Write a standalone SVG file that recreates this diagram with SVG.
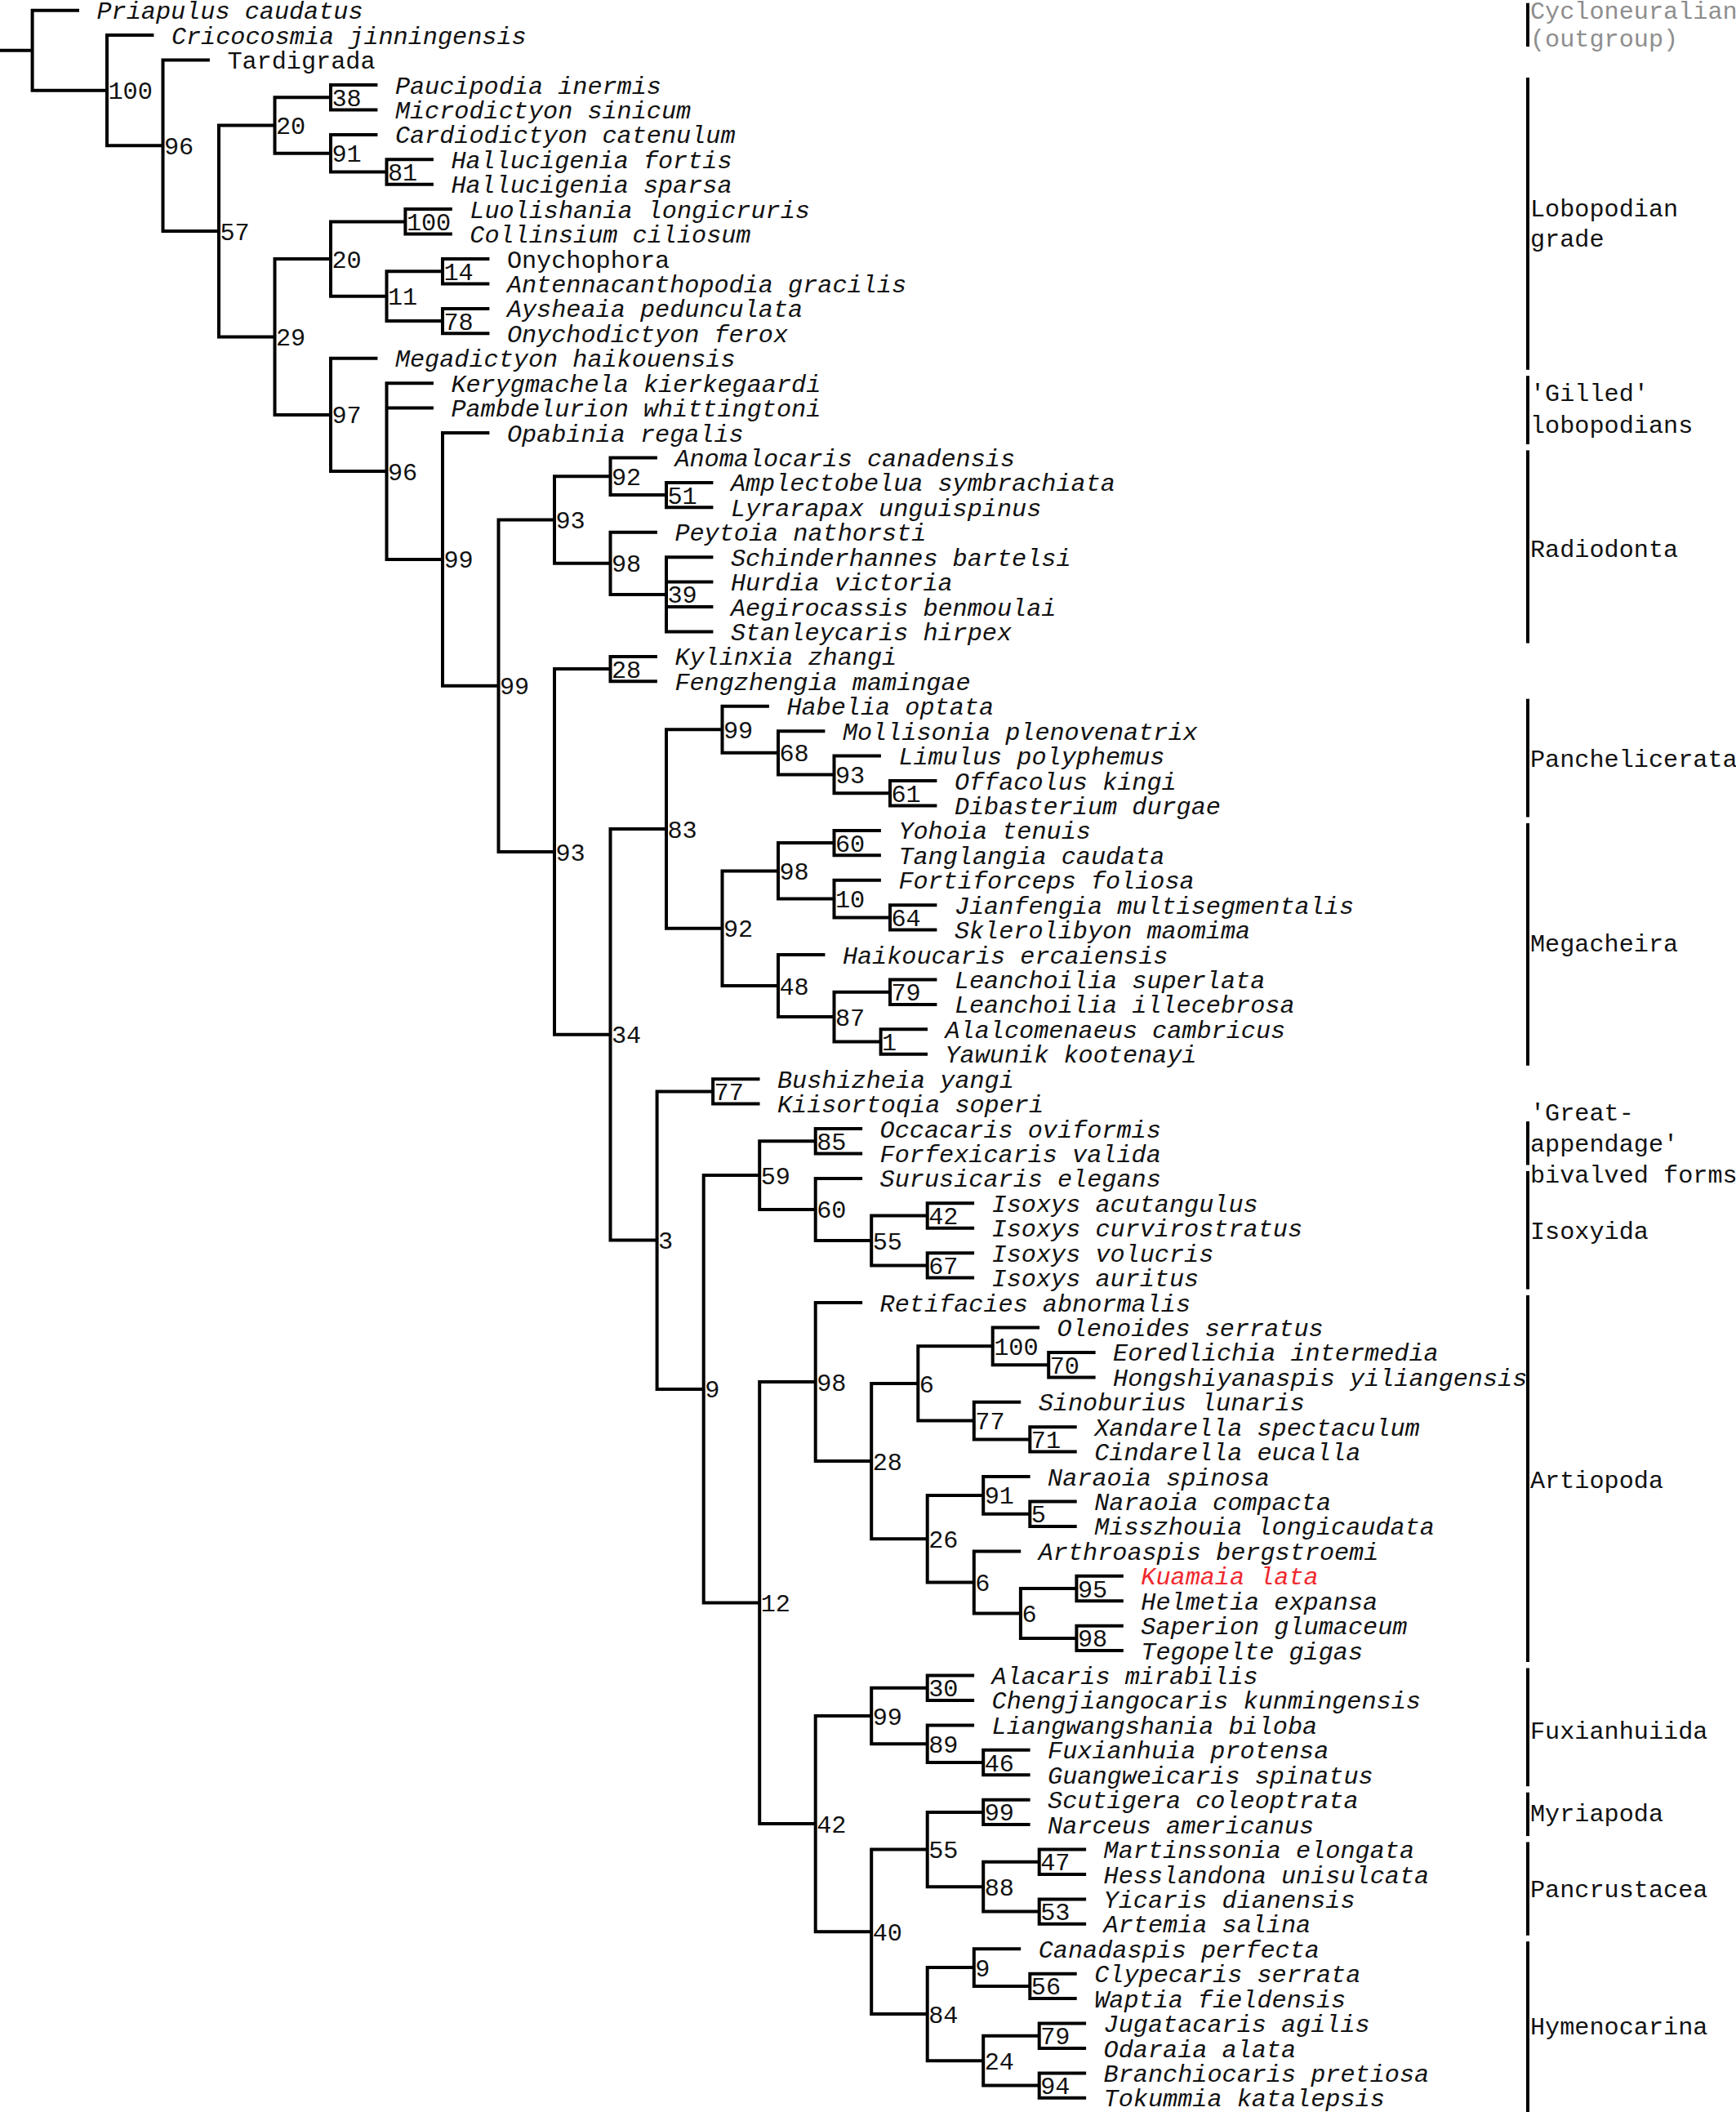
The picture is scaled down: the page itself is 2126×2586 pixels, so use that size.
<svg xmlns="http://www.w3.org/2000/svg" width="2126" height="2586" viewBox="0 0 2126 2586">
<style>
text{font-family:"Liberation Mono","Courier New",monospace;font-size:30.2px;fill:#111}
.i{font-style:italic}
.g{fill:#8e8e8e}
.r{fill:#f0282d}
.e{fill:none;stroke:#000;stroke-width:4;stroke-linejoin:miter}
.b{fill:none;stroke:#000;stroke-width:4}
</style>
<rect width="2126" height="2586" fill="#fff"/>
<g id="connectors" class="e">
<path d="M0 61.7H39.6M97 12.7H39.6V110.7H131"/>
<path d="M188.4 43.1H131V178.3H199.5"/>
<path d="M256.9 73.6H199.5V283H268"/>
<path d="M336.5 153.5H268V412.4H336.5"/>
<path d="M405 119.2H336.5V187.7H405"/>
<path d="M462.4 104H405V134.4H462.4"/>
<path d="M462.4 164.9H405V210.5H473.5"/>
<path d="M530.9 195.3H473.5V225.7H530.9"/>
<path d="M405 317H336.5V507.9H405"/>
<path d="M496.4 271.4H405V362.7H473.5"/>
<path d="M553.8 256.1H496.4V286.6H553.8"/>
<path d="M542 332.2H473.5V393.1H542"/>
<path d="M599.4 317H542V347.4H599.4"/>
<path d="M599.4 377.9H542V408.3H599.4"/>
<path d="M462.4 438.7H405V577H473.5"/>
<path d="M530.9 469.2H473.5V684.9H542M473.5 499.6H530.9"/>
<path d="M599.4 530H542V839.7H610.5"/>
<path d="M679 636.5H610.5V1043H679"/>
<path d="M747.5 583.3H679V689.8H747.5"/>
<path d="M804.9 560.4H747.5V606.1H816"/>
<path d="M873.4 590.9H816V621.3H873.4"/>
<path d="M804.9 651.7H747.5V727.9H816"/>
<path d="M873.4 682.2H816V773.5H873.4M816 712.6H873.4M816 743H873.4"/>
<path d="M747.5 819.1H679V1266.8H747.5"/>
<path d="M804.9 803.9H747.5V834.3H804.9"/>
<path d="M816 1015H747.5V1518.6H804.6"/>
<path d="M884.5 893.3H816V1136.7H884.5"/>
<path d="M941.9 864.7H884.5V921.8H953"/>
<path d="M1010.4 895.2H953V948.4H1021.5"/>
<path d="M1078.9 925.6H1021.5V971.3H1090"/>
<path d="M1147.4 956H1090V986.5H1147.4"/>
<path d="M953 1066.4H884.5V1207.1H953"/>
<path d="M1021.5 1032.1H953V1100.6H1021.5"/>
<path d="M1078.9 1016.9H1021.5V1047.3H1078.9"/>
<path d="M1078.9 1077.8H1021.5V1123.4H1090"/>
<path d="M1147.4 1108.2H1090V1138.6H1147.4"/>
<path d="M1010.4 1169H953V1245.1H1021.5"/>
<path d="M1090 1214.7H1021.5V1275.6H1078.6"/>
<path d="M1147.4 1199.5H1090V1229.9H1147.4"/>
<path d="M1136 1260.3H1078.6V1290.8H1136"/>
<path d="M873.1 1336.4H804.6V1700.9H861.7"/>
<path d="M930.5 1321.2H873.1V1351.6H930.5"/>
<path d="M930.2 1439.1H861.7V1962.6H930.2"/>
<path d="M998.7 1397.3H930.2V1480.9H998.7"/>
<path d="M1056.1 1382.1H998.7V1412.5H1056.1"/>
<path d="M1056.1 1442.9H998.7V1519H1067.2"/>
<path d="M1135.7 1488.6H1067.2V1549.4H1135.7"/>
<path d="M1193.1 1473.3H1135.7V1503.8H1193.1"/>
<path d="M1193.1 1534.2H1135.7V1564.6H1193.1"/>
<path d="M998.7 1692.1H930.2V2233.1H998.7"/>
<path d="M1056.1 1595.1H998.7V1789.1H1067.2"/>
<path d="M1124.3 1694H1067.2V1884.2H1135.7"/>
<path d="M1215.7 1648.3H1124.3V1739.6H1192.8"/>
<path d="M1273.1 1625.5H1215.7V1671.2H1284.2"/>
<path d="M1341.6 1655.9H1284.2V1686.4H1341.6"/>
<path d="M1250.2 1716.8H1192.8V1762.4H1261.3"/>
<path d="M1318.7 1747.2H1261.3V1777.6H1318.7"/>
<path d="M1204.2 1830.9H1135.7V1937.4H1192.8"/>
<path d="M1261.6 1808.1H1204.2V1853.7H1261.3"/>
<path d="M1318.7 1838.5H1261.3V1868.9H1318.7"/>
<path d="M1250.2 1899.4H1192.8V1975.5H1249.9"/>
<path d="M1318.4 1945H1249.9V2005.9H1318.4"/>
<path d="M1375.8 1929.8H1318.4V1960.2H1375.8"/>
<path d="M1375.8 1990.7H1318.4V2021.1H1375.8"/>
<path d="M1067.2 2101H998.7V2365.3H1067.2"/>
<path d="M1135.7 2066.7H1067.2V2135.2H1135.7"/>
<path d="M1193.1 2051.5H1135.7V2081.9H1193.1"/>
<path d="M1193.1 2112.4H1135.7V2158H1204.2"/>
<path d="M1261.6 2142.8H1204.2V2173.2H1261.6"/>
<path d="M1135.7 2264.5H1067.2V2466.1H1135.7"/>
<path d="M1204.2 2218.9H1135.7V2310.2H1204.2"/>
<path d="M1261.6 2203.7H1204.2V2234.1H1261.6"/>
<path d="M1272.7 2279.8H1204.2V2340.6H1272.7"/>
<path d="M1330.1 2264.5H1272.7V2295H1330.1"/>
<path d="M1330.1 2325.4H1272.7V2355.8H1330.1"/>
<path d="M1192.8 2409.1H1135.7V2523.2H1204.2"/>
<path d="M1250.2 2386.2H1192.8V2431.9H1261.3"/>
<path d="M1318.7 2416.7H1261.3V2447.1H1318.7"/>
<path d="M1272.7 2492.8H1204.2V2553.6H1272.7"/>
<path d="M1330.1 2477.5H1272.7V2508H1330.1"/>
<path d="M1330.1 2538.4H1272.7V2568.8H1330.1"/>
</g>
<g id="support-values">
<g id="n-100a"><text x="132.5" y="121.2">100</text></g>
<g id="n-96a"><text x="201" y="188.8">96</text></g>
<g id="n-57"><text x="269.5" y="293.5">57</text></g>
<g id="n-20a"><text x="338" y="164">20</text></g>
<g id="n-38"><text x="406.5" y="129.7">38</text></g>
<g id="n-91a"><text x="406.5" y="198.2">91</text></g>
<g id="n-81"><text x="475" y="221">81</text></g>
<g id="n-29"><text x="338" y="422.9">29</text></g>
<g id="n-20b"><text x="406.5" y="327.5">20</text></g>
<g id="n-100b"><text x="497.9" y="281.9">100</text></g>
<g id="n-11"><text x="475" y="373.2">11</text></g>
<g id="n-14"><text x="543.5" y="342.7">14</text></g>
<g id="n-78"><text x="543.5" y="403.6">78</text></g>
<g id="n-97"><text x="406.5" y="518.4">97</text></g>
<g id="n-96b"><text x="475" y="587.5">96</text></g>
<g id="n-99a"><text x="543.5" y="695.4">99</text></g>
<g id="n-99b"><text x="612" y="850.2">99</text></g>
<g id="n-93a"><text x="680.5" y="647">93</text></g>
<g id="n-92a"><text x="749" y="593.8">92</text></g>
<g id="n-51"><text x="817.5" y="616.6">51</text></g>
<g id="n-98a"><text x="749" y="700.3">98</text></g>
<g id="n-39"><text x="817.5" y="738.4">39</text></g>
<g id="n-93b"><text x="680.5" y="1053.5">93</text></g>
<g id="n-28a"><text x="749" y="829.6">28</text></g>
<g id="n-34"><text x="749" y="1277.3">34</text></g>
<g id="n-83"><text x="817.5" y="1025.5">83</text></g>
<g id="n-99c"><text x="886" y="903.8">99</text></g>
<g id="n-68"><text x="954.5" y="932.3">68</text></g>
<g id="n-93c"><text x="1023" y="958.9">93</text></g>
<g id="n-61"><text x="1091.5" y="981.8">61</text></g>
<g id="n-92b"><text x="886" y="1147.2">92</text></g>
<g id="n-98b"><text x="954.5" y="1076.9">98</text></g>
<g id="n-60a"><text x="1023" y="1042.6">60</text></g>
<g id="n-10"><text x="1023" y="1111.1">10</text></g>
<g id="n-64"><text x="1091.5" y="1133.9">64</text></g>
<g id="n-48"><text x="954.5" y="1217.6">48</text></g>
<g id="n-87"><text x="1023" y="1255.6">87</text></g>
<g id="n-79a"><text x="1091.5" y="1225.2">79</text></g>
<g id="n-1"><text x="1080.1" y="1286.1">1</text></g>
<g id="n-3"><text x="806.1" y="1529.1">3</text></g>
<g id="n-77a"><text x="874.6" y="1346.9">77</text></g>
<g id="n-9a"><text x="863.2" y="1711.4">9</text></g>
<g id="n-59"><text x="931.7" y="1449.6">59</text></g>
<g id="n-85"><text x="1000.2" y="1407.8">85</text></g>
<g id="n-60b"><text x="1000.2" y="1491.4">60</text></g>
<g id="n-55a"><text x="1068.7" y="1529.5">55</text></g>
<g id="n-42a"><text x="1137.2" y="1499.1">42</text></g>
<g id="n-67"><text x="1137.2" y="1559.9">67</text></g>
<g id="n-12"><text x="931.7" y="1973.1">12</text></g>
<g id="n-98c"><text x="1000.2" y="1702.6">98</text></g>
<g id="n-28b"><text x="1068.7" y="1799.6">28</text></g>
<g id="n-6a"><text x="1125.8" y="1704.5">6</text></g>
<g id="n-100c"><text x="1217.2" y="1658.8">100</text></g>
<g id="n-70"><text x="1285.7" y="1681.7">70</text></g>
<g id="n-77b"><text x="1194.3" y="1750.1">77</text></g>
<g id="n-71"><text x="1262.8" y="1772.9">71</text></g>
<g id="n-26"><text x="1137.2" y="1894.7">26</text></g>
<g id="n-91b"><text x="1205.7" y="1841.4">91</text></g>
<g id="n-5"><text x="1262.8" y="1864.2">5</text></g>
<g id="n-6b"><text x="1194.3" y="1947.9">6</text></g>
<g id="n-6c"><text x="1251.4" y="1986">6</text></g>
<g id="n-95"><text x="1319.9" y="1955.5">95</text></g>
<g id="n-98d"><text x="1319.9" y="2016.4">98</text></g>
<g id="n-42b"><text x="1000.2" y="2243.6">42</text></g>
<g id="n-99d"><text x="1068.7" y="2111.5">99</text></g>
<g id="n-30"><text x="1137.2" y="2077.2">30</text></g>
<g id="n-89"><text x="1137.2" y="2145.7">89</text></g>
<g id="n-46"><text x="1205.7" y="2168.5">46</text></g>
<g id="n-40"><text x="1068.7" y="2375.8">40</text></g>
<g id="n-55b"><text x="1137.2" y="2275">55</text></g>
<g id="n-99e"><text x="1205.7" y="2229.4">99</text></g>
<g id="n-88"><text x="1205.7" y="2320.7">88</text></g>
<g id="n-47"><text x="1274.2" y="2290.3">47</text></g>
<g id="n-53"><text x="1274.2" y="2351.1">53</text></g>
<g id="n-84"><text x="1137.2" y="2476.6">84</text></g>
<g id="n-9b"><text x="1194.3" y="2419.6">9</text></g>
<g id="n-56"><text x="1262.8" y="2442.4">56</text></g>
<g id="n-24"><text x="1205.7" y="2533.7">24</text></g>
<g id="n-79b"><text x="1274.2" y="2503.3">79</text></g>
<g id="n-94"><text x="1274.2" y="2564.1">94</text></g>
</g>
<g id="taxa" transform="translate(2.5 0)">
<g id="t01"><text class="i" x="116" y="23.2">Priapulus caudatus</text></g>
<g id="t02"><text class="i" x="207.4" y="53.6">Cricocosmia jinningensis</text></g>
<g id="t03"><text x="275.9" y="84.1">Tardigrada</text></g>
<g id="t04"><text class="i" x="481.4" y="114.5">Paucipodia inermis</text></g>
<g id="t05"><text class="i" x="481.4" y="144.9">Microdictyon sinicum</text></g>
<g id="t06"><text class="i" x="481.4" y="175.4">Cardiodictyon catenulum</text></g>
<g id="t07"><text class="i" x="549.9" y="205.8">Hallucigenia fortis</text></g>
<g id="t08"><text class="i" x="549.9" y="236.2">Hallucigenia sparsa</text></g>
<g id="t09"><text class="i" x="572.8" y="266.6">Luolishania longicruris</text></g>
<g id="t10"><text class="i" x="572.8" y="297.1">Collinsium ciliosum</text></g>
<g id="t11"><text x="618.4" y="327.5">Onychophora</text></g>
<g id="t12"><text class="i" x="618.4" y="357.9">Antennacanthopodia gracilis</text></g>
<g id="t13"><text class="i" x="618.4" y="388.4">Aysheaia pedunculata</text></g>
<g id="t14"><text class="i" x="618.4" y="418.8">Onychodictyon ferox</text></g>
<g id="t15"><text class="i" x="481.4" y="449.2">Megadictyon haikouensis</text></g>
<g id="t16"><text class="i" x="549.9" y="479.7">Kerygmachela kierkegaardi</text></g>
<g id="t17"><text class="i" x="549.9" y="510.1">Pambdelurion whittingtoni</text></g>
<g id="t18"><text class="i" x="618.4" y="540.5">Opabinia regalis</text></g>
<g id="t19"><text class="i" x="823.9" y="570.9">Anomalocaris canadensis</text></g>
<g id="t20"><text class="i" x="892.4" y="601.4">Amplectobelua symbrachiata</text></g>
<g id="t21"><text class="i" x="892.4" y="631.8">Lyrarapax unguispinus</text></g>
<g id="t22"><text class="i" x="823.9" y="662.2">Peytoia nathorsti</text></g>
<g id="t23"><text class="i" x="892.4" y="692.7">Schinderhannes bartelsi</text></g>
<g id="t24"><text class="i" x="892.4" y="723.1">Hurdia victoria</text></g>
<g id="t25"><text class="i" x="892.4" y="753.5">Aegirocassis benmoulai</text></g>
<g id="t26"><text class="i" x="892.4" y="784">Stanleycaris hirpex</text></g>
<g id="t27"><text class="i" x="823.9" y="814.4">Kylinxia zhangi</text></g>
<g id="t28"><text class="i" x="823.9" y="844.8">Fengzhengia mamingae</text></g>
<g id="t29"><text class="i" x="960.9" y="875.2">Habelia optata</text></g>
<g id="t30"><text class="i" x="1029.4" y="905.7">Mollisonia plenovenatrix</text></g>
<g id="t31"><text class="i" x="1097.9" y="936.1">Limulus polyphemus</text></g>
<g id="t32"><text class="i" x="1166.4" y="966.5">Offacolus kingi</text></g>
<g id="t33"><text class="i" x="1166.4" y="997">Dibasterium durgae</text></g>
<g id="t34"><text class="i" x="1097.9" y="1027.4">Yohoia tenuis</text></g>
<g id="t35"><text class="i" x="1097.9" y="1057.8">Tanglangia caudata</text></g>
<g id="t36"><text class="i" x="1097.9" y="1088.3">Fortiforceps foliosa</text></g>
<g id="t37"><text class="i" x="1166.4" y="1118.7">Jianfengia multisegmentalis</text></g>
<g id="t38"><text class="i" x="1166.4" y="1149.1">Sklerolibyon maomima</text></g>
<g id="t39"><text class="i" x="1029.4" y="1179.5">Haikoucaris ercaiensis</text></g>
<g id="t40"><text class="i" x="1166.4" y="1210">Leanchoilia superlata</text></g>
<g id="t41"><text class="i" x="1166.4" y="1240.4">Leanchoilia illecebrosa</text></g>
<g id="t42"><text class="i" x="1155" y="1270.8">Alalcomenaeus cambricus</text></g>
<g id="t43"><text class="i" x="1155" y="1301.3">Yawunik kootenayi</text></g>
<g id="t44"><text class="i" x="949.5" y="1331.7">Bushizheia yangi</text></g>
<g id="t45"><text class="i" x="949.5" y="1362.1">Kiisortoqia soperi</text></g>
<g id="t46"><text class="i" x="1075.1" y="1392.6">Occacaris oviformis</text></g>
<g id="t47"><text class="i" x="1075.1" y="1423">Forfexicaris valida</text></g>
<g id="t48"><text class="i" x="1075.1" y="1453.4">Surusicaris elegans</text></g>
<g id="t49"><text class="i" x="1212.1" y="1483.8">Isoxys acutangulus</text></g>
<g id="t50"><text class="i" x="1212.1" y="1514.3">Isoxys curvirostratus</text></g>
<g id="t51"><text class="i" x="1212.1" y="1544.7">Isoxys volucris</text></g>
<g id="t52"><text class="i" x="1212.1" y="1575.1">Isoxys auritus</text></g>
<g id="t53"><text class="i" x="1075.1" y="1605.6">Retifacies abnormalis</text></g>
<g id="t54"><text class="i" x="1292.1" y="1636">Olenoides serratus</text></g>
<g id="t55"><text class="i" x="1360.6" y="1666.4">Eoredlichia intermedia</text></g>
<g id="t56"><text class="i" x="1360.6" y="1696.9">Hongshiyanaspis yiliangensis</text></g>
<g id="t57"><text class="i" x="1269.2" y="1727.3">Sinoburius lunaris</text></g>
<g id="t58"><text class="i" x="1337.7" y="1757.7">Xandarella spectaculum</text></g>
<g id="t59"><text class="i" x="1337.7" y="1788.1">Cindarella eucalla</text></g>
<g id="t60"><text class="i" x="1280.6" y="1818.6">Naraoia spinosa</text></g>
<g id="t61"><text class="i" x="1337.7" y="1849">Naraoia compacta</text></g>
<g id="t62"><text class="i" x="1337.7" y="1879.4">Misszhouia longicaudata</text></g>
<g id="t63"><text class="i" x="1269.2" y="1909.9">Arthroaspis bergstroemi</text></g>
<g id="t64"><text class="i r" x="1394.8" y="1940.3">Kuamaia lata</text></g>
<g id="t65"><text class="i" x="1394.8" y="1970.7">Helmetia expansa</text></g>
<g id="t66"><text class="i" x="1394.8" y="2001.2">Saperion glumaceum</text></g>
<g id="t67"><text class="i" x="1394.8" y="2031.6">Tegopelte gigas</text></g>
<g id="t68"><text class="i" x="1212.1" y="2062">Alacaris mirabilis</text></g>
<g id="t69"><text class="i" x="1212.1" y="2092.4">Chengjiangocaris kunmingensis</text></g>
<g id="t70"><text class="i" x="1212.1" y="2122.9">Liangwangshania biloba</text></g>
<g id="t71"><text class="i" x="1280.6" y="2153.3">Fuxianhuia protensa</text></g>
<g id="t72"><text class="i" x="1280.6" y="2183.7">Guangweicaris spinatus</text></g>
<g id="t73"><text class="i" x="1280.6" y="2214.2">Scutigera coleoptrata</text></g>
<g id="t74"><text class="i" x="1280.6" y="2244.6">Narceus americanus</text></g>
<g id="t75"><text class="i" x="1349.1" y="2275">Martinssonia elongata</text></g>
<g id="t76"><text class="i" x="1349.1" y="2305.5">Hesslandona unisulcata</text></g>
<g id="t77"><text class="i" x="1349.1" y="2335.9">Yicaris dianensis</text></g>
<g id="t78"><text class="i" x="1349.1" y="2366.3">Artemia salina</text></g>
<g id="t79"><text class="i" x="1269.2" y="2396.7">Canadaspis perfecta</text></g>
<g id="t80"><text class="i" x="1337.7" y="2427.2">Clypecaris serrata</text></g>
<g id="t81"><text class="i" x="1337.7" y="2457.6">Waptia fieldensis</text></g>
<g id="t82"><text class="i" x="1349.1" y="2488">Jugatacaris agilis</text></g>
<g id="t83"><text class="i" x="1349.1" y="2518.5">Odaraia alata</text></g>
<g id="t84"><text class="i" x="1349.1" y="2548.9">Branchiocaris pretiosa</text></g>
<g id="t85"><text class="i" x="1349.1" y="2579.3">Tokummia katalepsis</text></g>
</g>
<g id="clades">
<g id="c-cyclo"><path class="b" d="M1871 3.7V57.1"/><text class="g" x="1874" y="23">Cycloneuralian</text><text class="g" x="1874" y="57">(outgroup)</text></g>
<g id="c-lobo"><path class="b" d="M1871 95V452.7"/><text x="1874" y="264.5">Lobopodian</text><text x="1874" y="302">grade</text></g>
<g id="c-gilled"><path class="b" d="M1871 460.2V544"/><text x="1874" y="491">'Gilled'</text><text x="1874" y="530">lobopodians</text></g>
<g id="c-radio"><path class="b" d="M1871 551.4V787.5"/><text x="1874" y="682">Radiodonta</text></g>
<g id="c-panch"><path class="b" d="M1871 855.7V1000.5"/><text x="1874" y="939">Panchelicerata</text></g>
<g id="c-mega"><path class="b" d="M1871 1007.9V1304.8"/><text x="1874" y="1165">Megacheira</text></g>
<g id="c-great"><path class="b" d="M1871 1373.1V1426.5"/><text x="1874" y="1372">'Great-</text><text x="1874" y="1410">appendage'</text><text x="1874" y="1448">bivalved forms</text></g>
<g id="c-isox"><path class="b" d="M1871 1433.9V1578.6"/><text x="1874" y="1516.5">Isoxyida</text></g>
<g id="c-artio"><path class="b" d="M1871 1586.1V2035.1"/><text x="1874" y="1822">Artiopoda</text></g>
<g id="c-fuxi"><path class="b" d="M1871 2042.5V2187.2"/><text x="1874" y="2129">Fuxianhuiida</text></g>
<g id="c-myria"><path class="b" d="M1871 2194.7V2248.1"/><text x="1874" y="2230">Myriapoda</text></g>
<g id="c-pancr"><path class="b" d="M1871 2255.5V2369.8"/><text x="1874" y="2322.5">Pancrustacea</text></g>
<g id="c-hymen"><path class="b" d="M1871 2377.2V2586"/><text x="1874" y="2491">Hymenocarina</text></g>
</g>
</svg>
